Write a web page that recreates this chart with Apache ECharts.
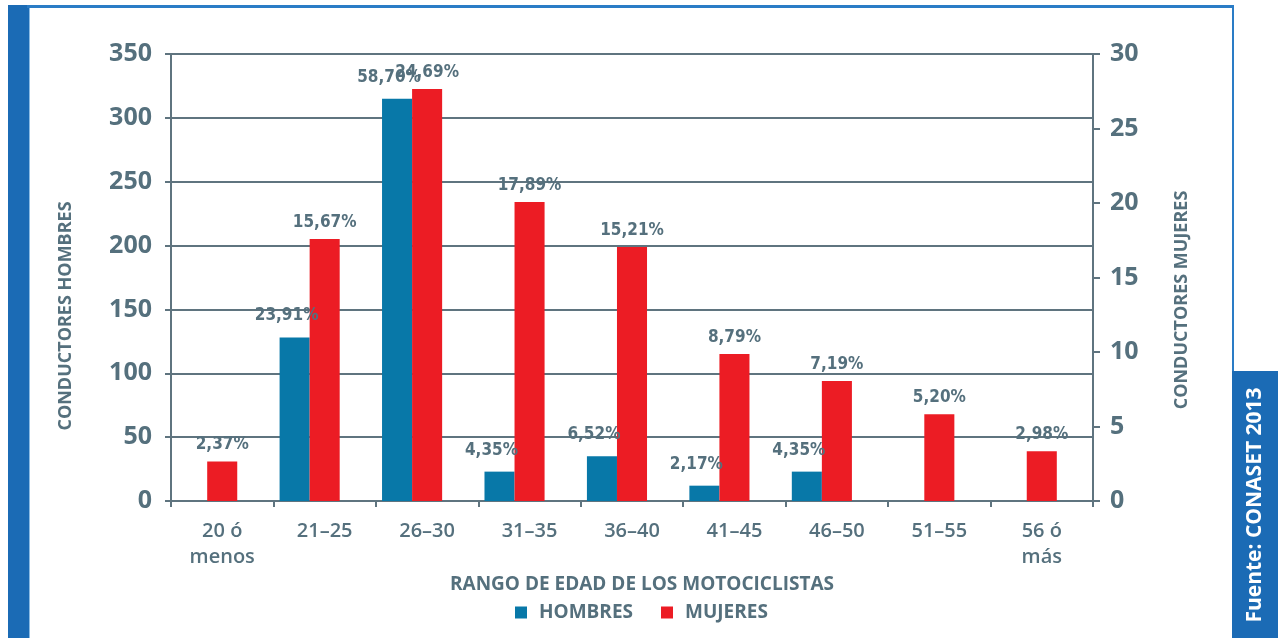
<!DOCTYPE html>
<html>
<head>
<meta charset="utf-8">
<script src="https://cdn.jsdelivr.net/npm/echarts@6/dist/echarts.min.js"></script>
<style>
  html, body { margin: 0; padding: 0; background: #ffffff; }
  #chart { width: 1278px; height: 638px; }
</style>
</head>
<body>
<div id="chart"></div>
<script>
// Age ranges of motorcyclists
const categories = ['20 ó\nmenos', '21–25', '26–30', '31–35', '36–40', '41–45', '46–50', '51–55', '56 ó\nmás'];
// Male drivers (left axis); '-' = no bar
const hombres = ['-', 128, 315, 23, 35, 12, 23, '-', '-'];
// Female drivers (right axis)
const mujeres = [2.65, 17.58, 27.65, 20.06, 17.04, 9.87, 8.06, 5.82, 3.34];
// Share of each group by age range (%)
const pctHombres = [null, 23.91, 58.70, 4.35, 6.52, 2.17, 4.35, null, null];
const pctMujeres = [2.37, 15.67, 24.69, 17.89, 15.21, 8.79, 7.19, 5.20, 2.98];
// Axis ticks
const leftTicks = { min: 0, max: 350, interval: 50 };
const rightTicks = { min: 0, max: 30, interval: 5 };

const TEXT = '#55707d';
const LINE = '#5f747f';
const BLUE = '#0878a8';
const RED = '#ec1c24';
const FRAME = '#1b6bb5';

const fmtPct = v => v == null ? '' : v.toFixed(2).replace('.', ',') + '%';

const chart = echarts.init(document.getElementById('chart'), null, { renderer: 'canvas' });

const axisLabelStyle = { color: TEXT, fontFamily: 'Open Sans', fontWeight: 'bold', fontSize: 25 };
const pctLabelStyle = { color: TEXT, fontFamily: '"DejaVu Sans Condensed", "DejaVu Sans"', fontWeight: 'bold', fontSize: 17 };

chart.setOption({
  animation: false,
  backgroundColor: '#ffffff',
  grid: { left: 171, right: 185, top: 54, bottom: 137, containLabel: false },
  legend: {
    data: ['HOMBRES', 'MUJERES'],
    top: 598,
    left: 510,
    icon: 'rect',
    itemWidth: 12,
    itemHeight: 12,
    itemGap: 28,
    textStyle: { color: TEXT, fontFamily: 'Open Sans', fontWeight: 'bold', fontSize: 19, padding: [0, 0, 0, 7] }
  },
  xAxis: {
    type: 'category',
    data: categories,
    name: 'RANGO DE EDAD DE LOS MOTOCICLISTAS',
    nameLocation: 'middle',
    nameGap: 69,
    nameTextStyle: { color: TEXT, fontFamily: 'Open Sans', fontWeight: 'bold', fontSize: 19, padding: [0, 0, 0, 20] },
    axisLine: { lineStyle: { color: LINE, width: 2 } },
    axisTick: { show: true, length: 6, lineStyle: { color: LINE, width: 2 } },
    axisLabel: { color: TEXT, fontFamily: 'Open Sans', fontWeight: 600, fontSize: 20, margin: 17, lineHeight: 26 }
  },
  yAxis: [
    {
      type: 'value',
      min: leftTicks.min, max: leftTicks.max, interval: leftTicks.interval,
      axisLine: { show: true, lineStyle: { color: LINE, width: 2 } },
      axisTick: { show: true, length: 6, lineStyle: { color: LINE, width: 2 } },
      axisLabel: Object.assign({ margin: 19 }, axisLabelStyle),
      splitLine: { show: true, lineStyle: { color: LINE, width: 2 } }
    },
    {
      type: 'value',
      position: 'right',
      min: rightTicks.min, max: rightTicks.max, interval: rightTicks.interval,
      axisLine: { show: true, lineStyle: { color: LINE, width: 2 } },
      axisTick: { show: true, length: 7, lineStyle: { color: LINE, width: 2 } },
      axisLabel: Object.assign({ margin: 17 }, axisLabelStyle),
      splitLine: { show: false }
    }
  ],
  series: [
    {
      name: 'HOMBRES',
      type: 'bar',
      yAxisIndex: 0,
      data: hombres,
      barGap: '0%',
      barCategoryGap: '12%',
      itemStyle: { color: BLUE },
      label: Object.assign({
        show: true,
        position: 'top',
        distance: 3,
        offset: [-8, -10],
        formatter: p => fmtPct(pctHombres[p.dataIndex])
      }, pctLabelStyle)
    },
    {
      name: 'MUJERES',
      type: 'bar',
      yAxisIndex: 1,
      data: mujeres,
      barGap: '0%',
      barCategoryGap: '12%',
      itemStyle: { color: RED },
      label: Object.assign({
        show: true,
        position: 'top',
        distance: 8,
        formatter: p => fmtPct(pctMujeres[p.dataIndex])
      }, pctLabelStyle)
    },
    {
      // empty slot that keeps the pair of bars left of centre in each range
      name: 'reserva',
      type: 'bar',
      yAxisIndex: 0,
      data: categories.map(() => '-'),
      barGap: '0%',
      barCategoryGap: '12%',
      silent: true
    }
  ],
  graphic: [
    // page frame
    { type: 'rect', shape: { x: 8, y: 5, width: 21, height: 633 }, style: { fill: FRAME } },
    { type: 'rect', shape: { x: 29, y: 8, width: 1, height: 630 }, style: { fill: '#8cbbe3' } },
    { type: 'rect', shape: { x: 27, y: 5, width: 1207, height: 3 }, style: { fill: '#2a7cc6' } },
    { type: 'rect', shape: { x: 1232, y: 5, width: 2, height: 367 }, style: { fill: '#2a7cc6' } },
    { type: 'rect', shape: { x: 1232, y: 371, width: 46, height: 267 }, style: { fill: FRAME } },
    {
      type: 'text', x: 1255, y: 505, rotation: Math.PI / 2,
      style: {
        text: 'Fuente: CONASET 2013', fill: '#ffffff',
        font: 'bold 21px "Open Sans"', textAlign: 'center', textVerticalAlign: 'middle'
      }
    },
    // value axis titles
    {
      type: 'text', x: 66, y: 316, rotation: Math.PI / 2,
      style: {
        text: 'CONDUCTORES HOMBRES', fill: TEXT,
        font: 'bold 18px "Open Sans"', textAlign: 'center', textVerticalAlign: 'middle'
      }
    },
    {
      type: 'text', x: 1182, y: 300, rotation: Math.PI / 2,
      style: {
        text: 'CONDUCTORES MUJERES', fill: TEXT,
        font: 'bold 18px "Open Sans"', textAlign: 'center', textVerticalAlign: 'middle'
      }
    }
  ]
});
</script>
</body>
</html>
